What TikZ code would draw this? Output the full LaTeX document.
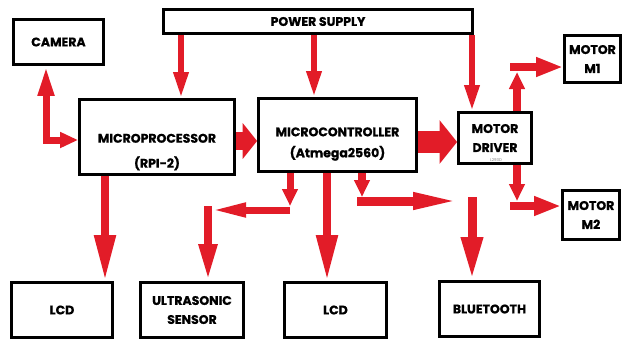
\documentclass[tikz,border=0pt]{standalone}
\usepackage{fontspec}
\setsansfont{Poppins}[BoldFeatures={FakeBold=0.8}]
\usetikzlibrary{arrows.meta, positioning}
\definecolor{wirered}{RGB}{226,28,40}
\tikzset{
  block/.style={draw, line width=2.8pt, fill=white, align=center, inner sep=1pt,
    font=\sffamily\bfseries\fontsize{12.5}{19}\selectfont},
  wire/.style={draw=wirered, line width=8pt},
  feed/.style={wire, line width=6pt, -{Triangle[width=14pt,length=26pt]}},
  link/.style={wire, -{Triangle[width=18pt,length=27pt]}},
  stub/.style={wire, -{Triangle[width=15pt,length=17pt]}},
  drop/.style={wire, -{Triangle[width=20pt,length=46pt]}},
  fat/.style={wire, line width=#1, -{Triangle[width=0pt 1.95, length=0pt 0.8]}},
}

\begin{document}
\begin{tikzpicture}[x=1pt, y=-1pt]
  \useasboundingbox (0,0) rectangle (629,341);
  % Blocks
  \node[block, minimum width=90pt, minimum height=45pt] (camera) at (58.5,42) {CAMERA};
  \node[block, minimum width=309pt, minimum height=24pt] (power) at (318,21.5) {POWER SUPPLY};
  \node[block, minimum width=155pt, minimum height=75pt] (mpu) at (157,137) {\mbox{}\\[20pt]MICROPROCESSOR\\[6pt](RPI-2)};
  \node[block, minimum width=158pt, minimum height=73pt] (mcu) at (337.5,135) {\mbox{}\\[8pt]MICROCONTROLLER\\[2pt](Atmega2560)};
  \node[block, minimum width=73pt, minimum height=51pt] (drv) at (495,138) {MOTOR\\DRIVER};
  \node[font=\sffamily\fontsize{4}{4}\selectfont, text=gray] (drvTag) at (496,160) {L293D};
  \node[block, minimum width=56pt, minimum height=47pt] (mOne) at (592.5,59) {MOTOR\\M1};
  \node[block, minimum width=57pt, minimum height=49pt] (mTwo) at (591,215) {MOTOR\\M2};
  \node[block, minimum width=101pt, minimum height=55pt] (lcdA) at (62,310) {LCD};
  \node[block, minimum width=103pt, minimum height=55pt] (sonar) at (192,310) {ULTRASONIC\\SENSOR};
  \node[block, minimum width=102pt, minimum height=55pt] (lcdB) at (335.5,310) {LCD};
  \node[block, minimum width=100pt, minimum height=55pt] (bt) at (489.5,309) {BLUETOOTH};

  % Guide lines for the wires
  \coordinate (xPwA) at (181,0);
  \coordinate (xPwB) at (314,0);
  \coordinate (xPwC) at (472,0);
  \coordinate (xCam) at (46,0);
  \coordinate (xLcdA) at (105,0);
  \coordinate (xSon) at (208,0);
  \coordinate (xSonUp) at (290,0);
  \coordinate (xLcdB) at (327,0);
  \coordinate (xBt) at (362,0);
  \coordinate (xMot) at (517,0);
  \coordinate (xMotL) at (510,0);
  \coordinate (yCam) at (0,140);
  \coordinate (yFatA) at (0,141);
  \coordinate (yFatB) at (0,142);
  \coordinate (yOne) at (0,67);
  \coordinate (yTwo) at (0,206);
  \coordinate (ySon) at (0,210);
  \coordinate (yBt) at (0,201);

  % Power supply
  \draw[feed] (power.south -| xPwA) -- (mpu.north -| xPwA);
  \draw[feed] (power.south -| xPwB) -- (mcu.north -| xPwB);
  \draw[feed] (power.south -| xPwC) -- (drv.north -| xPwC);
  % Camera link
  \draw[wire, line width=7pt, {Triangle[width=15pt,length=30pt]}-{Triangle[width=15pt,length=18pt]}]
    (camera.south -| xCam) -- (xCam |- yCam) -- (mpu.west |- yCam);
  % Processor to controller to driver
  \draw[fat=18pt] (mpu.east |- yFatA) -- (mcu.west |- yFatA);
  \draw[fat=22pt] (mcu.east |- yFatB) -- (drv.west |- yFatB);
  % Motors
  \draw[stub, shorten >=5pt] (drv.north -| xMot) -- (xMot |- yOne);
  \draw[link] (xMotL |- yOne) -- (mOne.west |- yOne);
  \draw[stub, shorten >=5pt] (drv.south -| xMot) -- (xMot |- yTwo);
  \draw[link] (xMotL |- yTwo) -- (mTwo.west |- yTwo);
  % LCD drops
  \draw[drop] (mpu.south -| xLcdA) -- (lcdA.north -| xLcdA);
  \draw[drop] (mcu.south -| xLcdB) -- (lcdB.north -| xLcdB);
  % Ultrasonic sensor
  \draw[stub, line width=7pt, shorten >=4pt] (mcu.south -| xSonUp) -- (xSonUp |- ySon);
  \draw[wire, line width=7pt, -{Triangle[width=13pt,length=36pt]}, shorten >=2pt] (xSonUp |- ySon) -- (xSon |- ySon);
  \draw[wire, line width=8pt, -{Triangle[width=17pt,length=37pt]}, shorten <=-4pt] (xSon |- ySon) -- (sonar.north -| xSon);
  % Bluetooth
  \draw[stub, shorten >=4pt] (mcu.south -| xBt) -- (xBt |- yBt);
  \draw[wire, line width=9pt, -{Triangle[width=15pt,length=50pt]}, shorten >=9pt] (xBt |- yBt) ++(-5,0) -- (xPwC |- yBt);
  \draw[drop, line width=9pt, -{Triangle[width=20pt,length=43pt]}, shorten <=-4pt] (xPwC |- yBt) -- (bt.north -| xPwC);
\end{tikzpicture}
\end{document}
